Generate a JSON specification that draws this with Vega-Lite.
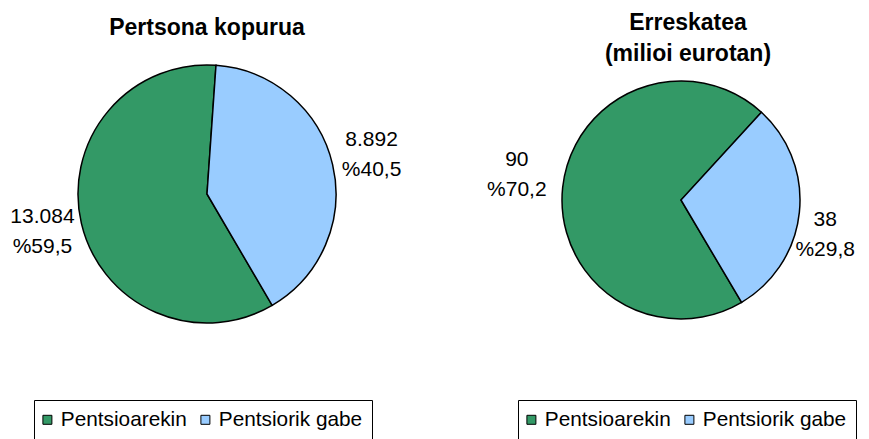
{
  "$schema": "https://vega.github.io/schema/vega-lite/v6.json",
  "autosize": {"type": "pad"},
  "padding": {"left": 10, "top": 12, "right": 0, "bottom": 0},
  "background": "white",
  "spacing": 224,
  "bounds": "flush",
  "config": {
    "view": {"stroke": null},
    "font": "Liberation Sans",
    "title": {"fontSize": 23, "fontWeight": "bold", "font": "Liberation Sans", "color": "black", "anchor": "middle", "frame": "group", "lineHeight": 31}
  },
  "resolve": {"scale": {"theta": "independent", "color": "independent"}, "legend": {"color": "independent"}},
  "hconcat": [
    {
      "width": 260,
      "height": 260,
      "title": {"text": "Pertsona kopurua", "offset": 22},
      "data": {"values": [
        {"category": "Pentsioarekin", "value": 13084, "label": "13.084\n%59,5"},
        {"category": "Pentsiorik gabe", "value": 8892, "label": "8.892\n%40,5"}
      ]},
      "encoding": {
        "theta": {"field": "value", "type": "quantitative", "stack": true, "scale": {"range": [0.0698, 6.353]}},
        "order": {"field": "category", "sort": "descending"},
        "color": {
          "field": "category", "type": "nominal",
          "scale": {"domain": ["Pentsioarekin", "Pentsiorik gabe"], "range": ["#339966", "#99CCFF"]},
          "legend": {"orient": "none", "legendX": -43, "legendY": 336, "direction": "horizontal", "title": null, "labelFontSize": 20.8, "labelFont": "Liberation Sans", "labelColor": "black", "symbolType": "square", "symbolSize": 81, "symbolStrokeColor": "black", "symbolStrokeWidth": 1, "symbolOffset": -6, "labelOffset": 3, "columnPadding": 11, "padding": 9, "strokeColor": "black", "fillColor": "white", "labelLimit": 300,
            "encode": {"symbols": {"update": {"stroke": {"value": "black"}, "strokeWidth": {"value": 1}}}}}
        }
      },
      "layer": [
        {"mark": {"type": "arc", "outerRadius": 129, "stroke": "black", "strokeWidth": 1.5}},
        {"mark": {"type": "text", "radius": 169, "dy": -15, "fontSize": 21, "lineBreak": "\n", "lineHeight": 30, "font": "Liberation Sans"},
         "encoding": {"text": {"field": "label"}, "color": {"value": "black"}}}
      ]
    },
    {
      "width": 240,
      "height": 272,
      "title": {"text": ["Erreskatea", "(milioi eurotan)"], "offset": -2, "dx": 7},
      "data": {"values": [
        {"category": "Pentsioarekin", "value": 90, "label": "90\n%70,2"},
        {"category": "Pentsiorik gabe", "value": 38, "label": "38\n%29,8"}
      ]},
      "encoding": {
        "theta": {"field": "value", "type": "quantitative", "stack": true},
        "order": {"field": "category", "sort": "descending"},
        "color": {
          "field": "category", "type": "nominal",
          "scale": {"domain": ["Pentsioarekin", "Pentsiorik gabe"], "range": ["#339966", "#99CCFF"]},
          "legend": {"orient": "none", "legendX": -43, "legendY": 336, "direction": "horizontal", "title": null, "labelFontSize": 20.8, "labelFont": "Liberation Sans", "labelColor": "black", "symbolType": "square", "symbolSize": 81, "symbolStrokeColor": "black", "symbolStrokeWidth": 1, "symbolOffset": -6, "labelOffset": 3, "columnPadding": 11, "padding": 9, "strokeColor": "black", "fillColor": "white", "labelLimit": 300,
            "encode": {"symbols": {"update": {"stroke": {"value": "black"}, "strokeWidth": {"value": 1}}}}}
        }
      },
      "resolve": {"scale": {"theta": "independent"}},
      "layer": [
        {"mark": {"type": "arc", "outerRadius": 119, "stroke": "black", "strokeWidth": 1.5},
         "encoding": {"theta": {"field": "value", "type": "quantitative", "stack": true, "scale": {"range": [0.742, 7.025]}}}},
        {"mark": {"type": "text", "radius": 157, "dx": -10, "dy": -10, "fontSize": 21, "lineBreak": "\n", "lineHeight": 30, "font": "Liberation Sans"},
         "encoding": {"theta": {"field": "value", "type": "quantitative", "stack": true, "scale": {"range": [0.829, 7.112]}}, "text": {"field": "label"}, "color": {"value": "black"}}}
      ]
    }
  ]
}
